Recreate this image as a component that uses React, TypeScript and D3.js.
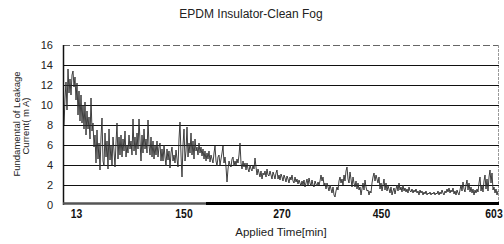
import React from "react";
import * as d3 from "d3";

// Fundamental of leakage current (mA), one reading per horizontal step
const leakage: number[] = [
  8.0, 10.6, 12.3, 9.5, 13.6, 11.2, 12.6, 11.0, 13.0, 13.4,
  11.8, 12.8, 10.5, 12.2, 9.0, 11.4, 8.4, 11.0, 8.2, 10.0,
  7.6, 10.3, 7.0, 9.4, 7.6, 8.8, 6.6, 10.7, 7.4, 8.2,
  5.8, 7.0, 4.2, 7.5, 4.6, 6.2, 3.5, 6.8, 8.7, 4.4,
  3.9, 7.2, 4.8, 6.4, 3.6, 7.6, 4.5, 6.0, 4.0, 6.8,
  5.4, 3.8, 6.2, 8.2, 4.6, 6.8, 5.0, 7.0, 4.8, 6.6,
  5.4, 7.4, 4.8, 6.0, 5.2, 7.0, 5.6, 6.4, 5.0, 8.6,
  5.4, 6.8, 5.0, 7.2, 5.6, 8.6, 6.4, 4.4, 7.0, 5.2,
  7.6, 5.6, 6.6, 5.2, 8.5, 6.0, 5.0, 6.8, 4.8, 6.4,
  4.6, 6.0, 5.0, 6.4, 4.8, 5.8, 6.2, 4.4, 5.6, 4.4,
  6.0, 4.8, 3.9, 5.6, 4.5, 5.4, 3.7, 5.2, 5.8, 4.4,
  5.0, 4.2, 5.5, 4.6, 3.8, 6.6, 8.3, 5.0, 2.8, 6.0,
  7.6, 4.4, 5.4, 7.8, 4.8, 6.2, 5.2, 7.2, 5.0, 6.4,
  4.6, 6.6, 5.4, 5.8, 5.0, 6.2, 5.2, 5.8, 4.9, 5.6,
  4.6, 5.4, 4.4, 5.2, 4.6, 5.4, 4.3, 5.0, 4.6, 4.2,
  5.2, 5.9, 4.4, 3.9, 4.8, 5.0, 4.0, 4.6, 5.2, 5.9,
  4.2, 4.8, 3.8, 2.3, 3.6, 4.4, 4.0, 3.8, 4.6, 4.8,
  3.9, 4.4, 4.0, 4.6, 4.2, 5.0, 6.2, 4.2, 3.6, 4.4,
  3.8, 4.2, 3.5, 4.2, 3.6, 3.3, 4.0, 3.6, 3.4, 4.0,
  3.6, 4.7, 3.8, 3.0, 3.6, 3.2, 2.8, 3.4, 2.6, 3.2,
  3.0, 3.4, 2.8, 3.6, 3.0, 2.9, 3.4, 3.0, 2.6, 3.3,
  3.0, 2.6, 3.2, 3.5, 2.6, 3.0, 2.5, 3.1, 2.8, 2.4,
  3.0, 2.7, 2.3, 2.9, 2.6, 2.2, 2.8, 2.5, 3.0, 2.4,
  2.2, 2.8, 2.3, 2.6, 2.1, 2.5, 2.2, 1.9, 2.4, 2.0,
  2.5, 1.8, 2.2, 2.6, 2.0, 2.7, 2.2, 1.9, 2.5, 2.0,
  1.8, 2.4, 2.1, 1.9, 2.3, 2.0, 2.4, 3.0, 2.4, 2.8,
  2.0, 2.2, 1.6, 2.2, 1.8, 1.4, 2.0, 1.6, 1.2, 1.8,
  1.0, 0.8, 1.4, 1.8, 1.5, 2.4, 2.8, 2.2, 2.6, 2.0,
  3.0, 2.4, 3.4, 3.8, 2.6, 2.2, 3.3, 2.6, 1.8, 2.8,
  2.2, 1.8, 2.4, 1.6, 2.2, 1.5, 1.8, 1.0, 1.6, 2.2,
  1.5, 2.5, 1.8, 1.4, 1.5, 1.0, 1.4, 1.2, 2.2, 2.8,
  3.2, 2.4, 3.0, 2.6, 2.2, 2.8, 1.6, 2.2, 1.4, 2.0,
  2.6, 1.5, 2.2, 1.4, 1.9, 1.6, 1.2, 1.8, 1.0, 1.4,
  1.7, 1.1, 1.6, 2.0, 1.4, 2.2, 1.5, 1.8, 1.3, 2.0,
  1.4, 1.7, 1.3, 1.6, 1.2, 1.8, 1.4, 1.3, 1.6, 1.2,
  1.5, 1.3, 1.6, 1.2, 1.4, 1.0, 1.5, 1.2, 1.4, 1.0,
  1.3, 1.1, 1.4, 1.0, 1.2, 1.1, 1.3, 1.0, 1.2, 1.1,
  1.3, 1.0, 1.2, 1.1, 1.4, 1.0, 1.3, 1.1, 1.5, 1.2,
  1.0, 1.4, 1.2, 1.6, 1.3, 1.7, 1.2, 1.5, 1.3, 1.7,
  1.1, 1.4, 1.0, 1.5, 1.2, 1.0, 1.5, 2.0, 1.4, 2.3,
  1.6, 1.3, 2.0, 2.5, 1.5, 2.2, 1.3, 1.8, 1.2, 1.6,
  1.0, 1.5, 1.2, 1.6, 1.3, 2.2, 2.8, 1.4, 2.0, 1.3,
  2.4, 3.0, 1.6, 2.6, 1.4, 2.8, 3.5, 2.2, 3.2, 1.5,
  1.8, 1.2, 1.6, 1.0, 1.4,
];

// x tick labels (applied time, min) and the reading index where each sits
const timeLabels: string[] = ["13", "150", "270", "450", "603"];
const timeLabelIndex: number[] = [12.5, 120, 218, 317.5, 430];

const yTicks: number[] = [0, 2, 4, 6, 8, 10, 12, 14, 16];
const gridValues: number[] = [2, 4, 6, 8, 10, 12, 14];

const title = "EPDM Insulator-Clean Fog";
const xTitle = "Applied Time[min]";
const yTitle1 = "Fundamental of Leakage";
const yTitle2 = "Current( m A)";

export default function App() {
  const W = 504;
  const H = 244;
  const left = 63;
  const right = 499;
  const x = d3.scaleLinear().domain([0, leakage.length - 1]).range([64, 498]);
  const y = d3.scaleLinear().domain([0, 16]).range([205, 45]);
  const line = d3
    .line<number>()
    .x((_, i) => x(i))
    .y((d) => y(d));

  const font = "'Liberation Sans', Arial, sans-serif";

  return (
    <svg
      width={W}
      height={H}
      style={{ position: "absolute", left: 0, top: 0, background: "#fff" }}
    >
      <rect x={0} y={0} width={W} height={H} fill="#fff" />
      <text x={251} y={18} textAnchor="middle" fontFamily={font} fontSize={12} fill="#222">
        {title}
      </text>

      {/* top dashed line at 16 */}
      <line x1={left} x2={right} y1={y(16) + 0.5} y2={y(16) + 0.5} stroke="#666" strokeWidth={1} strokeDasharray="7,3" />
      {/* right border */}
      <line x1={right - 0.5} x2={right - 0.5} y1={y(16)} y2={y(0)} stroke="#999" strokeWidth={1} strokeDasharray="3,1" />

      {gridValues.map((v) => (
        <line key={v} x1={left} x2={right} y1={Math.round(y(v)) + 0.5} y2={Math.round(y(v)) + 0.5} stroke="#111" strokeWidth={1} />
      ))}

      <path d={line(leakage) || ""} fill="none" stroke="#2a2a2a" strokeWidth={0.9} />

      {/* axes */}
      <line x1={left + 0.5} x2={left + 0.5} y1={y(16)} y2={y(0)} stroke="#111" strokeWidth={1.5} />
      <line x1={left} x2={206} y1={y(0) - 1.5} y2={y(0) - 1.5} stroke="#555" strokeWidth={2.5} />
      <line x1={206} x2={right} y1={y(0) - 1.5} y2={y(0) - 1.5} stroke="#000" strokeWidth={3} />

      {yTicks.map((v) => (
        <text key={v} x={53} y={y(v) + 4} textAnchor="end" fontFamily={font} fontSize={11} fill="#222">
          {v}
        </text>
      ))}

      {timeLabels.map((t, i) => (
        <text
          key={t}
          transform={`translate(${x(timeLabelIndex[i])},218) scale(0.8,1)`}
          textAnchor="middle"
          fontFamily={font}
          fontWeight="bold"
          fontSize={13}
          fill="#111"
        >
          {t}
        </text>
      ))}

      <text x={281} y={236} textAnchor="middle" fontFamily={font} fontSize={11.5} fill="#222">
        {xTitle}
      </text>

      <text transform="translate(19.5,124) rotate(-90)" textAnchor="middle" fontFamily={font} fontSize={9.5} fill="#222">
        {yTitle1}
      </text>
      <text transform="translate(28.5,126) rotate(-90)" textAnchor="middle" fontFamily={font} fontSize={9.5} fill="#222">
        {yTitle2}
      </text>
    </svg>
  );
}
